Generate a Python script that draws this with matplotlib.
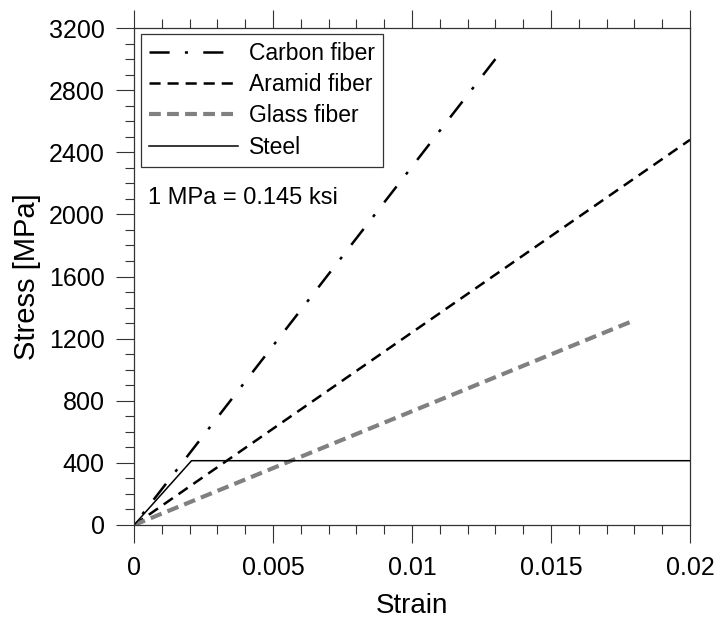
import matplotlib
matplotlib.use('Agg')
import matplotlib.pyplot as plt
from matplotlib.ticker import MultipleLocator, FuncFormatter

plt.rcParams['font.family'] = ['Liberation Sans', 'DejaVu Sans']
plt.rcParams['lines.scale_dashes'] = False

# material curves (strain, stress in MPa)
carbon_strain = [0.0, 0.013]
carbon_stress = [0.0, 3000.0]
aramid_strain = [0.0, 0.02]
aramid_stress = [0.0, 2480.0]
glass_strain = [0.0, 0.018]
glass_stress = [0.0, 1318.0]
steel_strain = [0.0, 0.00207, 0.02]
steel_stress = [0.0, 414.0, 414.0]

labels = ['Carbon fiber', 'Aramid fiber', 'Glass fiber', 'Steel']

fig = plt.figure(figsize=(7.15, 6.2), dpi=100)
ax = fig.add_axes([134 / 715, 1 - 525 / 620, 556 / 715, 497 / 620])

# carbon drawn from the top end so the dash pattern ends on a dash there
ax.plot(carbon_strain[::-1], carbon_stress[::-1], color='black', lw=1.8,
        dashes=(14.5, 11, 2.2, 11), dash_capstyle='butt', label=labels[0])
ax.plot(aramid_strain, aramid_stress, color='black', lw=1.8,
        dashes=(8, 5), label=labels[1])
ax.plot(glass_strain, glass_stress, color='#808080', lw=3.0,
        dashes=(8.5, 4.5), label=labels[2])
ax.plot(steel_strain, steel_stress, color='black', lw=1.1,
        label=labels[3])

ax.set_xlim(0, 0.02)
ax.set_ylim(0, 3200)

ax.xaxis.set_major_locator(MultipleLocator(0.005))
ax.xaxis.set_minor_locator(MultipleLocator(0.001))
ax.yaxis.set_major_locator(MultipleLocator(400))
ax.yaxis.set_minor_locator(MultipleLocator(100))
ax.xaxis.set_major_formatter(FuncFormatter(lambda v, p: '0' if v == 0 else ('%g' % v)))

ax.tick_params(axis='x', which='both', direction='out', top=True, bottom=True,
               labelsize=18, pad=9, width=0.8, color='#333333')
ax.tick_params(axis='y', which='both', direction='out', left=True, right=False,
               labelsize=18, pad=8, width=0.8, color='#333333')
ax.tick_params(which='major', length=13)
ax.tick_params(which='minor', length=6.5)

for s in ax.spines.values():
    s.set_linewidth(0.9)
    s.set_color('#333333')

ax.set_xlabel('Strain', fontsize=20, labelpad=10)
ax.set_ylabel('Stress [MPa]', fontsize=21, labelpad=6)

leg = ax.legend(loc='upper left', bbox_to_anchor=(0.0126, 0.988),
                borderaxespad=0, fontsize=16.5, handlelength=3.9,
                handletextpad=0.45, labelspacing=0.36, borderpad=0.35,
                fancybox=False, framealpha=1, edgecolor='#333333')
leg.get_frame().set_linewidth(0.9)

ax.text(0.025, 0.658, '1 MPa = 0.145 ksi', transform=ax.transAxes,
        fontsize=17, ha='left', va='center')

fig.savefig('out.png', dpi=100)
